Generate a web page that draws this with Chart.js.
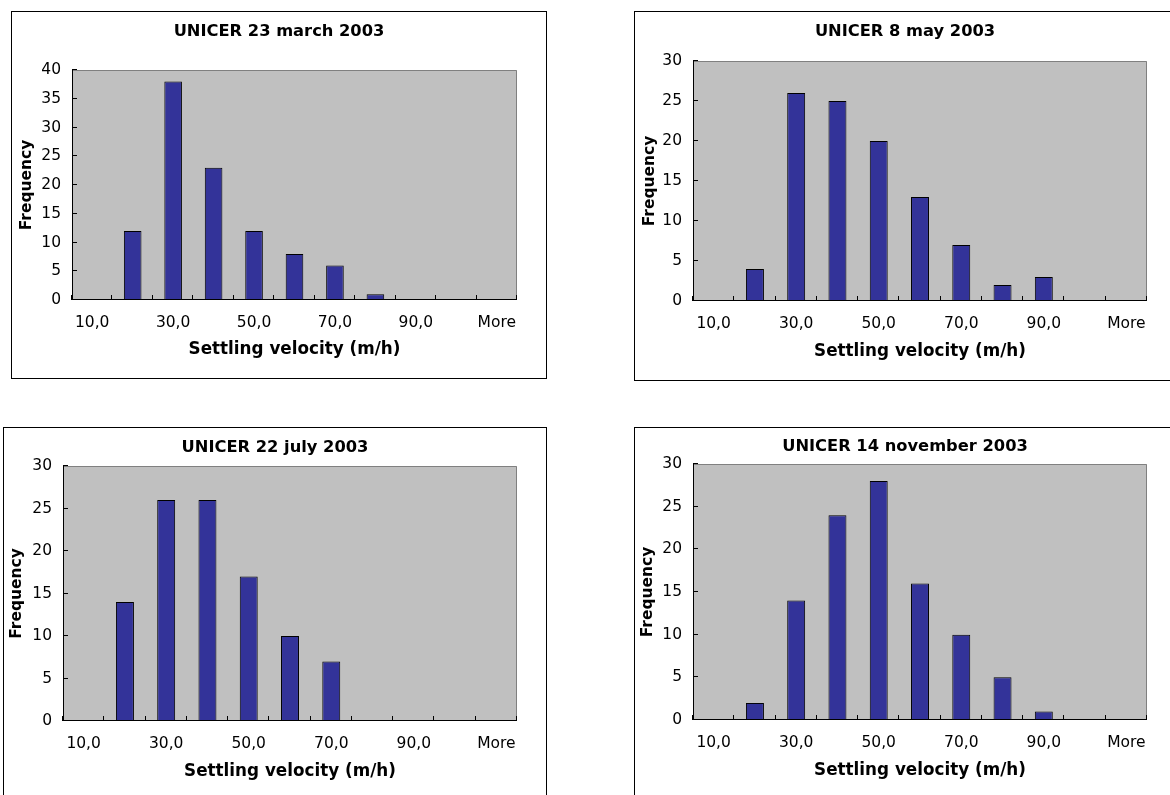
<!DOCTYPE html>
<html>
<head>
<meta charset="utf-8">
<script src="https://cdn.jsdelivr.net/npm/chart.js@4.4.1/dist/chart.umd.min.js"></script>
<style>
html, body { margin: 0; padding: 0; background: #ffffff; width: 1170px; height: 795px; overflow: hidden; }
.box { position: absolute; }
.box canvas { position: absolute; left: 0; top: 0; }
.frame { position: absolute; left: 0; top: 0; right: 0; bottom: 0; border: 1px solid #000; box-sizing: border-box; pointer-events: none; }
</style>
</head>
<body>
<div class="box" id="b0"><canvas id="c0"></canvas><div class="frame"></div></div>
<div class="box" id="b1"><canvas id="c1"></canvas><div class="frame"></div></div>
<div class="box" id="b2"><canvas id="c2"></canvas><div class="frame"></div></div>
<div class="box" id="b3"><canvas id="c3"></canvas><div class="frame"></div></div>
<script>
// ---------- DATA ----------
const categories = ['10,0', '20,0', '30,0', '40,0', '50,0', '60,0', '70,0', '80,0', '90,0', '100,0', 'More'];
const shownTickLabels = ['10,0', '30,0', '50,0', '70,0', '90,0', 'More'];
const chartTitles = ['UNICER 23 march 2003', 'UNICER 8 may 2003', 'UNICER 22 july 2003', 'UNICER 14 november 2003'];
const march2003 = [0, 12, 38, 23, 12, 8, 6, 1, 0, 0, 0];
const may2003 = [0, 4, 26, 25, 20, 13, 7, 2, 3, 0, 0];
const july2003 = [0, 14, 26, 26, 17, 10, 7, 0, 0, 0, 0];
const november2003 = [0, 2, 14, 24, 28, 16, 10, 5, 1, 0, 0];
const yAxisMax = [40, 30, 30, 30];
const yAxisStep = 5;
const xAxisTitle = 'Settling velocity (m/h)';
const yAxisTitle = 'Frequency';

// ---------- LAYOUT (pixels) ----------
const layouts = [
  { box: {l: 11, t: 11, w: 536, h: 368}, plot: {l: 72, t: 70, r: 517, b: 300}, titleY: 32, freqX: 27, xLabOff: 23, xTitleOff: 49.5 },
  { box: {l: 634, t: 11, w: 542, h: 370}, plot: {l: 693, t: 61, r: 1147, b: 301}, titleY: 32, freqX: 650, xLabOff: 23, xTitleOff: 51 },
  { box: {l: 3, t: 427, w: 544, h: 370}, plot: {l: 63, t: 466, r: 517, b: 721}, titleY: 448, freqX: 17, xLabOff: 23, xTitleOff: 51 },
  { box: {l: 634, t: 427, w: 542, h: 370}, plot: {l: 693, t: 464, r: 1147, b: 720}, titleY: 447, freqX: 648, xLabOff: 23, xTitleOff: 51 }
];
const seriesList = [march2003, may2003, july2003, november2003];

const FONT = "'DejaVu Sans', Verdana, sans-serif";
const TICK_SIZE = 15.5;
const TITLE_SIZE = 16.3;
const XTITLE_SIZE = 16.8;
const YTITLE_SIZE = 15.5;
const LH = 1.2;

const plotDecor = {
  id: 'plotDecor',
  beforeDatasetsDraw(chart) {
    const {ctx, chartArea: a} = chart;
    ctx.save();
    ctx.fillStyle = '#C0C0C0';
    ctx.fillRect(a.left, a.top, a.right - a.left, a.bottom - a.top);
    ctx.restore();
  },
  afterDatasetsDraw(chart) {
    const {ctx, chartArea: a} = chart;
    const xs = chart.scales.x, ys = chart.scales.y;
    ctx.save();
    ctx.lineWidth = 1;
    ctx.strokeStyle = '#808080';
    ctx.beginPath();
    ctx.moveTo(a.left, a.top + 0.5);
    ctx.lineTo(a.right - 0.5, a.top + 0.5);
    ctx.lineTo(a.right - 0.5, a.bottom);
    ctx.stroke();
    ctx.strokeStyle = '#000000';
    ctx.beginPath();
    ctx.moveTo(a.left + 0.5, a.top);
    ctx.lineTo(a.left + 0.5, a.bottom - 0.5);
    ctx.lineTo(a.right, a.bottom - 0.5);
    ctx.stroke();
    ctx.beginPath();
    ys.ticks.forEach(t => {
      const y = Math.round(ys.getPixelForValue(t.value)) - 0.5;
      ctx.moveTo(a.left, y);
      ctx.lineTo(a.left + 5, y);
    });
    for (let i = 0; i <= categories.length; i++) {
      const x = Math.round(xs.getPixelForValue(i - 0.5)) - 0.5;
      ctx.moveTo(x, a.bottom);
      ctx.lineTo(x, a.bottom - 5);
    }
    ctx.stroke();
    ctx.restore();
  }
};

function makeChart(idx) {
  const L = layouts[idx];
  const boxEl = document.getElementById('b' + idx);
  boxEl.style.left = L.box.l + 'px';
  boxEl.style.top = L.box.t + 'px';
  boxEl.style.width = L.box.w + 'px';
  boxEl.style.height = L.box.h + 'px';
  const cv = document.getElementById('c' + idx);
  cv.width = L.box.w; cv.height = L.box.h;
  cv.style.width = L.box.w + 'px'; cv.style.height = L.box.h + 'px';

  const plotTopRel = L.plot.t - L.box.t;
  const plotLeftRel = L.plot.l - L.box.l;
  const rightPad = (L.box.l + L.box.w) - L.plot.r;
  const xAxisH = (L.box.t + L.box.h) - L.plot.b;
  const titleLH = TITLE_SIZE * LH;
  const xTitleLH = XTITLE_SIZE * LH;
  const yTitleLH = YTITLE_SIZE * LH;
  const tickLH = TICK_SIZE * LH;
  const titleRel = L.titleY - L.box.t;
  const tPadTop = titleRel - titleLH / 2;
  const tPadBottom = plotTopRel - tPadTop - titleLH;
  const freqRel = L.freqX - L.box.l;

  return new Chart(cv, {
    type: 'bar',
    data: {
      labels: categories,
      datasets: [{
        data: seriesList[idx],
        backgroundColor: '#333399',
        borderColor: '#000000',
        borderWidth: c => (c.raw > 0 ? 1 : 0),
        borderSkipped: false,
        barPercentage: 0.435,
        categoryPercentage: 1.0
      }]
    },
    options: {
      responsive: false,
      animation: false,
      devicePixelRatio: 1,
      layout: { autoPadding: false, padding: 0 },
      plugins: {
        legend: { display: false },
        tooltip: { enabled: false },
        title: {
          display: true,
          text: chartTitles[idx],
          color: '#000',
          font: { family: FONT, size: TITLE_SIZE, weight: 'bold', lineHeight: LH },
          padding: { top: tPadTop, bottom: tPadBottom }
        }
      },
      scales: {
        x: {
          type: 'category',
          offset: true,
          grid: { display: false, drawTicks: false, tickLength: 0 },
          border: { display: false },
          ticks: {
            autoSkip: false,
            maxRotation: 0,
            minRotation: 0,
            color: '#000',
            padding: L.xLabOff - tickLH / 2,
            font: { family: FONT, size: TICK_SIZE, lineHeight: LH },
            callback: function(v, i) {
              const lab = categories[i];
              return shownTickLabels.includes(lab) ? lab : '';
            }
          },
          title: {
            display: true,
            text: xAxisTitle,
            color: '#000',
            font: { family: FONT, size: XTITLE_SIZE, weight: 'bold', lineHeight: LH },
            padding: { top: 0, bottom: xAxisH - L.xTitleOff - xTitleLH / 2 }
          },
          afterFit: s => { s.height = xAxisH; }
        },
        y: {
          min: 0,
          max: yAxisMax[idx],
          grid: { display: false, drawTicks: false, tickLength: 0 },
          border: { display: false },
          ticks: {
            stepSize: yAxisStep,
            color: '#000',
            padding: 11,
            font: { family: FONT, size: TICK_SIZE, lineHeight: LH }
          },
          title: {
            display: true,
            text: yAxisTitle,
            color: '#000',
            font: { family: FONT, size: YTITLE_SIZE, weight: 'bold', lineHeight: LH },
            padding: { top: freqRel - yTitleLH / 2, bottom: 0 }
          },
          afterFit: s => { s.width = plotLeftRel; }
        },
        spacer: {
          type: 'linear',
          position: 'right',
          display: true,
          min: 0,
          max: 1,
          grid: { display: false, drawTicks: false, tickLength: 0 },
          border: { display: false },
          ticks: { display: false },
          title: { display: false },
          afterFit: s => { s.width = rightPad; }
        }
      }
    },
    plugins: [plotDecor]
  });
}

for (let i = 0; i < 4; i++) makeChart(i);
</script>
</body>
</html>
